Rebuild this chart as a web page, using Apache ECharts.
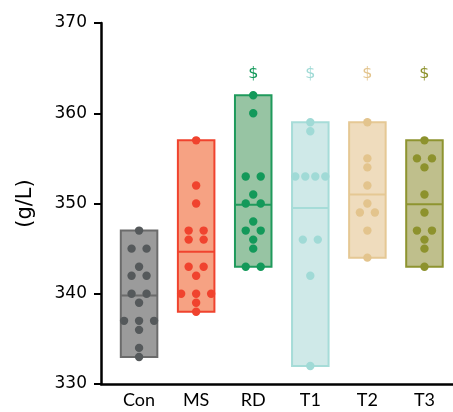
<!DOCTYPE html>
<html>
<head>
<meta charset="utf-8">
<script src="https://cdn.jsdelivr.net/npm/echarts@6/dist/echarts.min.js"></script>
<style>html,body{margin:0;padding:0;background:#fff}#c{width:453px;height:412px}</style>
</head>
<body>
<div id="c"></div>
<script>
// ---- data ----
const categories = ['Con', 'MS', 'RD', 'T1', 'T2', 'T3'];
const conValues = [347, 345, 345, 343, 342, 342, 340, 340, 339, 337, 337, 337, 336, 334, 333];
const msValues  = [357, 352, 350, 347, 347, 346, 346, 343, 343, 342, 340, 340, 340, 339, 338];
const rdValues  = [362, 360, 353, 353, 351, 350, 350, 348, 347, 347, 346, 345, 343, 343];
const t1Values  = [359, 358, 353, 353, 353, 353, 346, 346, 342, 332];
const t2Values  = [359, 355, 354, 352, 350, 349, 349, 347, 344];
const t3Values  = [357, 355, 355, 354, 351, 349, 347, 347, 346, 345, 343];
const significance = ['', '', '$', '$', '$', '$'];
const yTicks = [330, 340, 350, 360, 370];

const groups = [conValues, msValues, rdValues, t1Values, t2Values, t3Values];
const dotColors    = ['#55595b', '#f0432e', '#13995a', '#a0dad6', '#e3c48d', '#8d922d'];
const boxFill      = ['#9b9b9b', '#f6a283', '#97c4a3', '#cfe9e8', '#efdcbd', '#bfbf8c'];
const boxBorder    = ['#6b6b6b', '#f0432e', '#1f9a5c', '#a6dcd8', '#e5c894', '#8e9430'];

// box table: [idx, min, max, mean]
const boxData = groups.map((g, i) => {
  const mn = Math.min(...g), mx = Math.max(...g);
  const mean = g.reduce((a, b) => a + b, 0) / g.length;
  return [i, mn, mx, mean];
});

// dot table: [idx, value, pixelOffset] - equal values spread sideways
const dotData = [];
groups.forEach((g, i) => {
  const counts = {};
  g.forEach(v => counts[v] = (counts[v] || 0) + 1);
  Object.keys(counts).forEach(k => {
    const n = counts[k];
    const s = n > 1 ? Math.min(15, 30 / (n - 1)) : 0;
    for (let j = 0; j < n; j++) {
      dotData.push([i, Number(k), (j - (n - 1) / 2) * s]);
    }
  });
});

const chart = echarts.init(document.getElementById('c'), null, {renderer: 'canvas'});
chart.setOption({
  animation: false,
  grid: {left: 101, right: 0, top: 23, bottom: 28},
  xAxis: {
    type: 'value', min: -0.667, max: 5.5,
    splitLine: {show: false},
    axisLine: {show: true, onZero: false, lineStyle: {color: '#000', width: 2.5}},
    axisTick: {show: false},
    axisLabel: {
      customValues: [0, 1, 2, 3, 4, 5],
      formatter: v => categories[Math.round(v)],
      fontFamily: 'Lato', fontSize: 18, color: '#000', margin: 7
    }
  },
  yAxis: {
    type: 'value', min: 330, max: 370, interval: 10,
    name: '(g/L)', nameLocation: 'middle', nameGap: 65, nameRotate: 90,
    nameTextStyle: {fontFamily: 'DejaVu Sans', fontSize: 21, color: '#000'},
    splitLine: {show: false},
    axisLine: {show: true, onZero: false, lineStyle: {color: '#000', width: 2.5}},
    axisTick: {show: true, length: 7, lineStyle: {color: '#000', width: 2}},
    axisLabel: {
      customValues: yTicks,
      fontFamily: 'DejaVu Sans', fontSize: 17, color: '#000', margin: 14
    }
  },
  series: [
    {
      type: 'custom',
      data: boxData,
      renderItem: (params, api) => {
        const i = api.value(0);
        const a = api.coord([i - 0.32, api.value(2)]);
        const b = api.coord([i + 0.32, api.value(1)]);
        const m1 = api.coord([i - 0.32, api.value(3)]);
        const m2 = api.coord([i + 0.32, api.value(3)]);
        return {
          type: 'group',
          children: [
            {type: 'rect', shape: {x: a[0], y: a[1], width: b[0] - a[0], height: b[1] - a[1]},
             style: {fill: boxFill[i], stroke: boxBorder[i], lineWidth: 2}},
            {type: 'line', shape: {x1: m1[0], y1: m1[1], x2: m2[0], y2: m2[1]},
             style: {stroke: boxBorder[i], lineWidth: 2}}
          ]
        };
      }
    },
    {
      type: 'custom',
      data: dotData,
      renderItem: (params, api) => {
        const i = api.value(0);
        const p = api.coord([i, api.value(1)]);
        return {type: 'circle', shape: {cx: p[0] + api.value(2), cy: p[1], r: 4.2},
                style: {fill: dotColors[i]}};
      }
    },
    {
      type: 'custom',
      data: significance.map((s, i) => [i, 364.4, s]),
      renderItem: (params, api) => {
        const i = api.value(0);
        const p = api.coord([i, api.value(1)]);
        return {type: 'text', x: p[0], y: p[1],
                style: {text: significance[i], fill: dotColors[i], fontSize: 16,
                        fontFamily: 'DejaVu Sans', align: 'center', verticalAlign: 'middle'}};
      }
    }
  ]
});
</script>
</body>
</html>
